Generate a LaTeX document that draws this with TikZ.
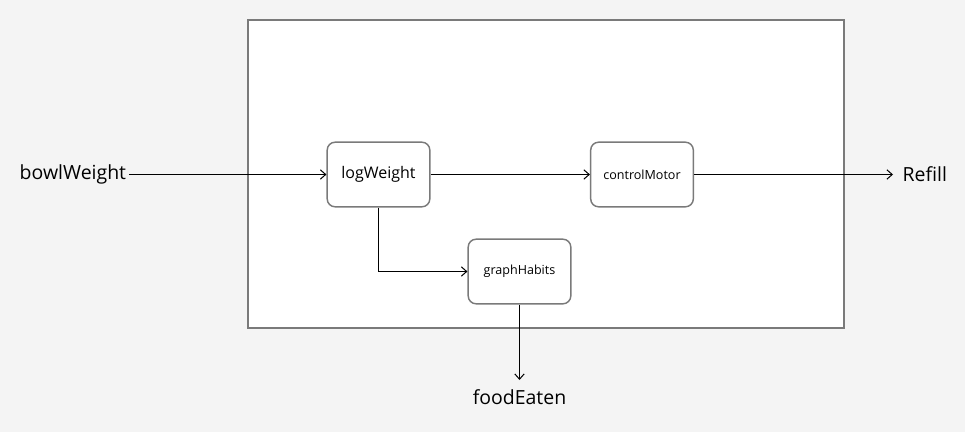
\documentclass[tikz,border=0pt]{standalone}
\usepackage{fontspec}
\setmainfont{Open Sans}
\usepackage{tikz}
\usetikzlibrary{arrows.meta,positioning}
\definecolor{bgGray}{HTML}{F4F4F4}
\definecolor{lineGray}{HTML}{7A7A7A}

\begin{document}
\begin{tikzpicture}[
  x=0.75pt,y=-0.75pt,
  proc/.style={draw=lineGray,line width=1.1pt,rounded corners=6pt,fill=white,
               minimum width=77pt,minimum height=48.5pt,inner sep=0pt,
               font=\fontsize{9.4}{11}\selectfont},
  io/.style={inner sep=2pt,font=\fontsize{14.6}{17}\selectfont},
  arr/.style={-{Straight Barb[length=4pt,width=7pt]},line width=0.75pt}
]

% Background and system box
\fill[bgGray] (0,0) rectangle (965,432);
\useasboundingbox (0,0) rectangle (965,432);
\draw[lineGray,line width=1.3pt,fill=white] (248,20) rectangle (844,328);

% Processes
\node[proc,font=\fontsize{12}{14}\selectfont] (logWeight) at (378.5,174.5) {logWeight};
\node[proc] (controlMotor) at (642,174.5) {controlMotor};
\node[proc] (graphHabits) at (519.5,271.5) {graphHabits};

% Inputs and outputs
\node[io,anchor=east] (bowlWeight) at (129,174.5) {bowlWeight};
\node[io,anchor=west,inner xsep=7pt] (refill) at (893,174.5) {Refill};
\node[io,anchor=north,inner ysep=7pt] (foodEaten) at (519.5,380) {foodEaten};

% Flows
\draw[arr] (bowlWeight) -- (logWeight);
\draw[arr] (logWeight) -- (controlMotor);
\draw[arr] (controlMotor) -- (refill);
\draw[arr] (logWeight.south) |- (graphHabits.west);
\draw[arr] (graphHabits) -- (foodEaten);

\end{tikzpicture}
\end{document}
